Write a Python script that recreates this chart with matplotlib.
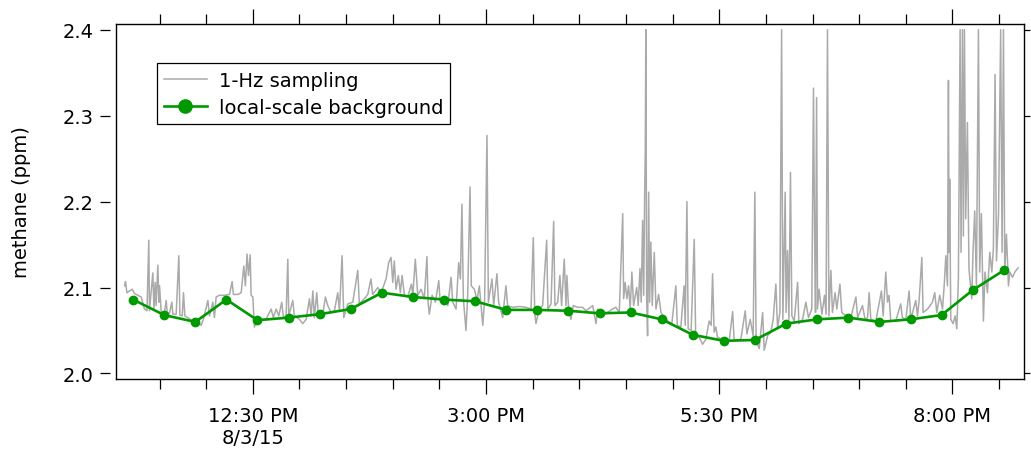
import numpy as np
import pandas as pd
import matplotlib
matplotlib.use("Agg")
import matplotlib.pyplot as plt
import matplotlib.dates as mdates
from matplotlib.ticker import FixedLocator, FixedFormatter, NullFormatter

# ---------------- data ----------------
date_str = "2015-08-03"
start_clock = "11:00"

# 1-Hz trace, vertices: minutes after 11:00 and methane (ppm)
gray_minutes = [
    7.5, 8.1, 9.0, 10.7, 12.4, 13.9, 16.1, 18.2, 20.3, 21.9, 23.1, 23.5, 25.7, 26.4, 27.2, 27.8,
    28.9, 29.6, 30.0, 31.1, 33.2, 34.3, 34.9, 36.4, 37.9, 38.6, 40.7, 42.4, 43.1, 44.6, 45.4, 46.3,
    48.2, 51.4, 54.6, 56.8, 58.2, 61.1, 62.1, 64.3, 65.3, 66.4, 68.5, 71.7, 75.0, 76.7, 77.5, 80.4,
    82.5, 84.2, 85.2, 86.3, 87.2, 88.3, 88.9, 90.0, 91.0, 92.6, 96.4,
    98.5, 101.8, 103.2, 105.0, 106.7, 108.6, 109.7, 111.4, 112.5, 113.1, 115.7, 116.7, 120.0, 122.1,
    124.3, 126.4, 127.5, 128.6, 129.6, 131.1, 132.2, 135.0, 136.7, 138.2, 140.3, 142.5, 144.6, 145.7,
    147.4, 148.5, 151.1, 154.3, 157.5, 158.5, 161.7, 163.9, 166.0, 167.1, 170.4, 172.5, 175.7, 177.4,
    178.9, 180.0, 181.0, 182.1, 183.6, 184.9, 186.0, 187.5, 189.6, 192.0, 192.9, 194.5,
    196.1, 198.2, 200.3, 202.0, 202.7, 203.5, 205.3, 207.4, 209.6, 210.4, 213.2, 215.4, 217.5, 218.6,
    220.7, 222.4, 223.5, 224.5, 225.4, 227.1, 228.2, 229.7, 230.5, 232.5, 234.2, 235.7, 237.9, 239.1,
    240.6, 241.5, 243.8, 244.9, 247.0, 248.1, 250.7, 252.8, 253.9, 257.1, 261.4, 265.7, 268.9, 270.4,
    271.3, 272.1, 274.2, 276.4, 279.0, 279.8, 281.8, 283.5, 284.3, 286.1, 287.5, 288.6, 290.3,
    291.4, 292.0, 293.1, 294.6, 296.1, 298.9, 302.1, 304.3, 308.6, 310.7, 311.8, 315.0, 318.2, 321.4,
    323.5, 325.7, 327.9, 328.5, 329.5, 330.6, 331.7, 332.7, 333.8, 334.9, 336.9, 337.9, 339.0, 339.8,
    340.7, 341.4, 342.0, 342.4, 342.8, 343.3, 343.9, 344.6, 345.2, 346.0, 346.9, 348.2, 349.3, 351.0,
    352.5, 354.6, 356.8, 359.5, 362.1, 363.0, 365.3, 367.4, 368.1, 369.2, 370.0, 371.9, 373.9, 374.8,
    377.1, 379.3, 381.4, 383.5, 384.8, 385.7, 386.7,
    387.8, 388.9, 392.1, 396.4, 398.6, 399.6, 403.9, 406.7, 407.8, 409.9, 411.8, 412.9, 413.7, 415.7,
    417.9, 418.9, 421.1, 423.2, 424.7, 426.4, 427.5, 429.0, 430.1, 430.9, 432.4, 433.0, 433.9, 434.8,
    435.8, 436.7, 438.2, 440.4, 441.2, 443.6, 445.7, 447.4, 449.5, 450.6, 451.3, 451.9, 452.6, 453.2,
    454.2, 456.0, 457.7, 458.7, 459.6, 460.5, 461.8, 462.8, 464.5, 465.6, 467.6, 468.8, 471.4, 474.6,
    477.9, 479.0, 482.1, 483.8,
    485.4, 486.4, 487.5, 490.7, 494.3, 495.4, 497.1, 498.2, 499.2, 500.3, 503.5, 506.7, 507.8, 510.0,
    512.1, 513.2, 516.4, 517.5, 518.5, 520.3, 521.1, 524.0, 527.1, 528.6, 529.9, 531.8, 533.6, 534.8,
    535.7, 536.8, 537.4, 537.8, 538.2, 538.9, 540.4, 541.7, 542.8, 543.8, 544.9, 545.5, 546.4, 547.0,
    547.7, 548.5, 549.6, 550.6, 552.4, 553.2, 554.3, 555.4, 556.7, 557.5, 558.6, 559.9, 560.9, 562.5,
    564.0, 565.3, 566.3, 567.4, 568.3, 569.6, 571.0, 571.9, 572.8, 573.6, 574.7, 576.0, 576.9, 578.6,
    580.1, 582.2,
]
gray_ppm = [
    2.102, 2.107, 2.094, 2.096, 2.098, 2.093, 2.091, 2.089, 2.075, 2.073, 2.155, 2.073, 2.117, 2.075, 2.106, 2.079,
    2.126, 2.083, 2.102, 2.071, 2.072, 2.085, 2.071, 2.070, 2.083, 2.069, 2.069, 2.137, 2.068, 2.067, 2.094, 2.067,
    2.065, 2.061, 2.060, 2.056, 2.063, 2.085, 2.067, 2.083, 2.065, 2.089, 2.091, 2.091, 2.092, 2.107, 2.092, 2.092,
    2.094, 2.125, 2.102, 2.139, 2.114, 2.138, 2.091, 2.089, 2.054, 2.061, 2.063,
    2.063, 2.075, 2.065, 2.075, 2.067, 2.083, 2.065, 2.067, 2.133, 2.067, 2.085, 2.067, 2.063, 2.058,
    2.063, 2.087, 2.067, 2.096, 2.065, 2.094, 2.067, 2.069, 2.089, 2.079, 2.071, 2.073, 2.094, 2.073,
    2.137, 2.065, 2.081, 2.083, 2.120, 2.081, 2.087, 2.092, 2.110, 2.092, 2.100, 2.094, 2.110, 2.129,
    2.135, 2.106, 2.131, 2.098, 2.114, 2.094, 2.114, 2.091, 2.089, 2.104, 2.091, 2.133,
    2.091, 2.098, 2.087, 2.136, 2.083, 2.069, 2.091, 2.083, 2.108, 2.085, 2.087, 2.079, 2.112, 2.083,
    2.075, 2.129, 2.110, 2.197, 2.087, 2.050, 2.091, 2.217, 2.102, 2.098, 2.085, 2.102, 2.056, 2.087,
    2.277, 2.083, 2.110, 2.079, 2.116, 2.083, 2.065, 2.102, 2.079, 2.077, 2.078, 2.077, 2.075, 2.158,
    2.071, 2.058, 2.075, 2.079, 2.155, 2.075, 2.081, 2.177, 2.079, 2.083, 2.114, 2.079, 2.133,
    2.079, 2.114, 2.075, 2.063, 2.079, 2.077, 2.077, 2.073, 2.079, 2.058, 2.075, 2.071, 2.071, 2.075,
    2.077, 2.071, 2.186, 2.087, 2.106, 2.087, 2.102, 2.075, 2.118, 2.079, 2.100, 2.079, 2.122, 2.083,
    2.178, 2.091, 2.207, 2.257, 2.400, 2.087, 2.044, 2.211, 2.083, 2.153, 2.079, 2.141, 2.075, 2.092,
    2.071, 2.065, 2.061, 2.058, 2.102, 2.056, 2.054, 2.102, 2.056, 2.200, 2.052, 2.050, 2.156, 2.046,
    2.042, 2.034, 2.040, 2.061, 2.056, 2.116, 2.048,
    2.054, 2.042, 2.040, 2.038, 2.072, 2.038, 2.040, 2.073, 2.046, 2.063, 2.044, 2.211, 2.038, 2.029,
    2.071, 2.027, 2.044, 2.048, 2.063, 2.104, 2.052, 2.071, 2.400, 2.063, 2.211, 2.071, 2.143, 2.063,
    2.234, 2.067, 2.061, 2.106, 2.058, 2.063, 2.083, 2.065, 2.075, 2.332, 2.160, 2.071, 2.321, 2.075,
    2.098, 2.069, 2.091, 2.069, 2.400, 2.067, 2.120, 2.071, 2.094, 2.075, 2.104, 2.071, 2.067, 2.065,
    2.089, 2.065, 2.079, 2.063,
    2.065, 2.094, 2.063, 2.061, 2.096, 2.067, 2.118, 2.083, 2.091, 2.061, 2.061, 2.081, 2.065, 2.063,
    2.096, 2.063, 2.085, 2.067, 2.084, 2.135, 2.071, 2.075, 2.083, 2.094, 2.071, 2.091, 2.075, 2.106,
    2.137, 2.102, 2.341, 2.141, 2.226, 2.063, 2.058, 2.067, 2.052, 2.110, 2.400, 2.141, 2.400, 2.160,
    2.400, 2.180, 2.292, 2.122, 2.087, 2.141, 2.189, 2.102, 2.400, 2.118, 2.186, 2.061, 2.118, 2.094,
    2.141, 2.118, 2.145, 2.348, 2.131, 2.184, 2.400, 2.141, 2.400, 2.118, 2.162, 2.102, 2.118, 2.112,
    2.118, 2.123,
]

# local-scale background points
bg_clock = [
    "11:13", "11:33", "11:53", "12:13", "12:33", "12:53", "13:13", "13:33", "13:53", "14:13",
    "14:33", "14:53", "15:13", "15:33", "15:53", "16:13", "16:33", "16:53", "17:13", "17:33",
    "17:53", "18:13", "18:33", "18:53", "19:13", "19:33", "19:53", "20:13", "20:33",
]
bg_ppm = [
    2.086, 2.068, 2.060, 2.086, 2.062, 2.065, 2.069, 2.075, 2.094, 2.089,
    2.086, 2.084, 2.074, 2.074, 2.073, 2.070, 2.071, 2.063, 2.045, 2.038,
    2.039, 2.058, 2.063, 2.065, 2.060, 2.063, 2.068, 2.097, 2.120,
]

major_tick_clock = ["12:30", "15:00", "17:30", "20:00"]
major_tick_labels = ["12:30 PM\n8/3/15", "3:00 PM", "5:30 PM", "8:00 PM"]
y_ticks = [2.0, 2.1, 2.2, 2.3, 2.4]
y_tick_labels = ["2.0", "2.1", "2.2", "2.3", "2.4"]
x_range_clock = ["11:02", "20:46"]
series_labels = ["1-Hz sampling", "local-scale background"]
y_label = "methane (ppm)"

# ---------------- conversion to times ----------------
t0 = pd.Timestamp(f"{date_str} {start_clock}")
gray_time = (t0 + pd.to_timedelta(gray_minutes, unit="min")).to_pydatetime()
bg_time = pd.to_datetime([f"{date_str} {c}" for c in bg_clock]).to_pydatetime()
major_time = pd.to_datetime([f"{date_str} {c}" for c in major_tick_clock]).to_pydatetime()
xlim_time = pd.to_datetime([f"{date_str} {c}" for c in x_range_clock]).to_pydatetime()

# ---------------- figure ----------------
plt.rcParams["font.family"] = ["DejaVu Sans"]
fig = plt.figure(figsize=(10.31, 4.52), dpi=100)
ax = fig.add_axes([116 / 1031, 1 - 380 / 452, 908 / 1031, 355 / 452])

GRAY = "#aaaaaa"
GREEN = "#009900"

ax.plot(gray_time, gray_ppm, color=GRAY, lw=1.1, label=series_labels[0], zorder=2)
ax.plot(bg_time, bg_ppm, color=GREEN, lw=1.9, marker="o", ms=6, mec=GREEN, mfc=GREEN,
        label=series_labels[1], zorder=3)

ax.set_xlim(mdates.date2num(xlim_time[0]), mdates.date2num(xlim_time[1]))
ax.set_ylim(1.9936, 2.4066)

# x ticks on bottom and top
ax.xaxis.set_major_locator(FixedLocator(mdates.date2num(major_time)))
ax.xaxis.set_major_formatter(FixedFormatter(major_tick_labels))
ax.xaxis.set_minor_locator(mdates.MinuteLocator(byminute=[0, 30]))
ax.xaxis.set_minor_formatter(NullFormatter())
ax.tick_params(axis="x", which="both", direction="out", top=True, bottom=True,
               labeltop=False, labelbottom=True, width=0.9, color="black",
               labelsize=14, pad=8.5)
ax.tick_params(axis="x", which="major", length=10.8)
ax.tick_params(axis="x", which="minor", length=7.2)
for lab in ax.get_xticklabels():
    lab.set_linespacing(1.2)

# y ticks on left (offset from the frame)
ax.set_yticks(y_ticks)
ax.set_yticklabels(y_tick_labels)
ax.tick_params(axis="y", which="both", direction="out", left=True, right=False,
               length=7.5, width=0.9, labelsize=14, pad=4.3)
ax.spines["left"].set_position(("outward", 4.5))
ax.spines["left"].set_visible(False)
for s in ["top", "right", "bottom"]:
    ax.spines[s].set_linewidth(1.0)

ax.set_ylabel(y_label, fontsize=14)
ax.yaxis.set_label_coords((21.7 - 116) / 908, 0.5)
ax.yaxis.label.set_va("center")

# right-side ticks and left frame line
ax2 = ax.twinx()
ax2.set_ylim(ax.get_ylim())
ax2.set_yticks(y_ticks)
ax2.tick_params(axis="y", direction="out", right=True, left=False, labelright=False,
                length=4.5, width=0.9)
for s in ["top", "right", "bottom"]:
    ax2.spines[s].set_visible(False)
ax2.spines["left"].set_linewidth(1.0)

leg = ax.legend(loc="upper left", bbox_to_anchor=((156.7 - 116) / 908, (380 - 64.3) / 355),
                borderaxespad=0, fontsize=14, frameon=True, fancybox=False,
                edgecolor="black", framealpha=1, handlelength=2.2, handletextpad=0.6,
                borderpad=0.38, labelspacing=0.42)
leg.get_frame().set_linewidth(0.9)
leg.legend_handles[1].set_markersize(9.5)

fig.savefig("out.png", dpi=100)
